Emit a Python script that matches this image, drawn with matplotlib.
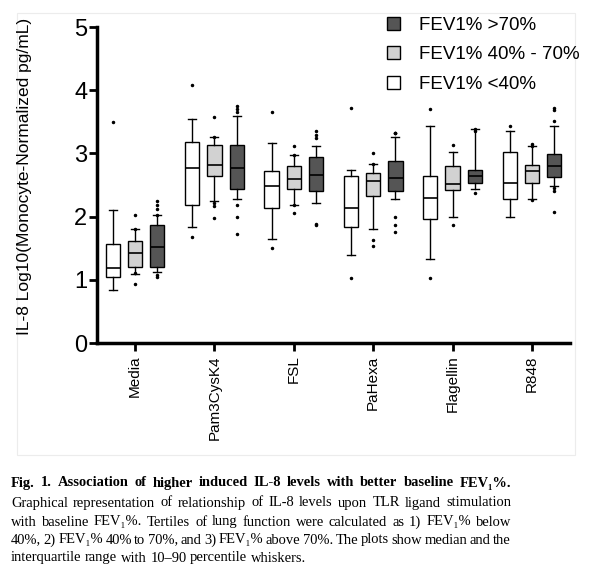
import numpy as np
import matplotlib.pyplot as plt
from matplotlib.patches import Patch, Rectangle

categories = ['Media', 'Pam3CysK4', 'FSL', 'PaHexa', 'Flagellin', 'R848']
tertiles = ['FEV1% <40%', 'FEV1% 40% - 70%', 'FEV1% >70%']
colors = ['white', '#d2d2d2', '#555555']

# per category: [p10, q1, median, q3, p90]
low_stats = [
    [0.84, 1.05, 1.19, 1.56, 2.10],
    [1.84, 2.18, 2.77, 3.18, 3.54],
    [1.64, 2.13, 2.49, 2.72, 3.16],
    [1.39, 1.83, 2.13, 2.64, 2.74],
    [1.33, 1.96, 2.29, 2.64, 3.43],
    [2.00, 2.28, 2.53, 3.02, 3.35],
]
mid_stats = [
    [1.09, 1.21, 1.43, 1.62, 1.80],
    [2.25, 2.65, 2.82, 3.14, 3.26],
    [2.19, 2.43, 2.59, 2.80, 2.98],
    [1.81, 2.32, 2.57, 2.69, 2.84],
    [1.99, 2.42, 2.51, 2.80, 3.02],
    [2.28, 2.53, 2.72, 2.81, 3.11],
]
high_stats = [
    [1.12, 1.21, 1.52, 1.87, 2.03],
    [2.28, 2.43, 2.77, 3.14, 3.59],
    [2.22, 2.41, 2.66, 2.95, 3.11],
    [2.28, 2.41, 2.61, 2.88, 3.26],
    [2.44, 2.53, 2.64, 2.74, 3.38],
    [2.49, 2.63, 2.80, 2.99, 3.44],
]

low_fliers = [[3.49], [4.08, 1.67], [3.66, 1.50], [3.72, 1.03], [3.71, 1.03], [3.44]]
mid_fliers = [[2.03, 1.80, 1.10, 0.94], [3.58, 3.26, 2.22, 2.17, 1.97],
              [3.11, 2.98, 2.19, 2.05], [3.01, 2.84, 1.63, 1.53],
              [3.14, 1.86], [3.15, 3.12, 2.27]]
high_fliers = [[2.25, 2.18, 2.12, 2.03, 1.07, 1.05], [3.75, 3.70, 3.65, 2.19, 2.00, 1.72],
               [3.35, 3.29, 3.24, 1.88, 1.87], [3.33, 3.33, 3.33, 2.00, 1.87, 1.76],
               [3.38, 3.36, 2.37], [3.72, 3.68, 3.51, 2.45, 2.41, 2.08]]

caption = [
    'Fig. 1. Association of higher induced IL-8 levels with better baseline FEV\u2081%.',
    'Graphical representation of relationship of IL-8 levels upon TLR ligand stimulation',
    'with baseline FEV\u2081%. Tertiles of lung function were calculated as 1) FEV\u2081% below',
    '40%, 2) FEV\u2081% 40% to 70%, and 3) FEV\u2081% above 70%. The plots show median and the',
    'interquartile range with 10\u201390 percentile whiskers.',
]

plt.rcParams['font.family'] = ['Liberation Sans', 'DejaVu Sans']

fig = plt.figure(figsize=(5.97, 5.77), dpi=100)
ax = fig.add_axes([97 / 597, 1 - 343 / 577, (570 - 97) / 597, (343 - 27) / 577])

# faint frame around the chart image
fig.patches.append(Rectangle((17 / 597, 1 - 455 / 577), 558 / 597, 442 / 577,
                             transform=fig.transFigure, fill=False,
                             edgecolor='#ececec', lw=0.8))


def make_stats(rows, fliers):
    out = []
    for r, f in zip(rows, fliers):
        out.append(dict(whislo=r[0], q1=r[1], med=r[2], q3=r[3], whishi=r[4],
                        fliers=f))
    return out


x = np.arange(1, len(categories) + 1)
offsets = [-0.28, 0.0, 0.28]
all_stats = [low_stats, mid_stats, high_stats]
all_fliers = [low_fliers, mid_fliers, high_fliers]

for k in range(3):
    ax.bxp(make_stats(all_stats[k], all_fliers[k]), positions=x + offsets[k],
           widths=0.18, patch_artist=True, manage_ticks=False,
           boxprops=dict(facecolor=colors[k], edgecolor='black', lw=1.0),
           medianprops=dict(color='black', lw=1.2),
           whiskerprops=dict(color='black', lw=1.0),
           capprops=dict(color='black', lw=1.0),
           capwidths=0.1,
           flierprops=dict(marker='o', markersize=1.5, markerfacecolor='black',
                           markeredgecolor='black'))

ax.set_xlim(0.52, 6.48)
ax.set_ylim(0, 5)
ax.set_yticks([0, 1, 2, 3, 4, 5])
ax.set_xticks(x)
ax.set_xticklabels(categories, rotation=90, fontsize=11)
ax.tick_params(axis='y', labelsize=17, width=2, length=6, pad=1)
ax.tick_params(axis='x', width=2, length=6, pad=3)
for s in ['top', 'right']:
    ax.spines[s].set_visible(False)
for s in ['left', 'bottom']:
    ax.spines[s].set_linewidth(2.5)

fig.text(25 / 597, 1 - 176 / 577, 'IL-8 Log10(Monocyte-Normalized pg/mL)',
         rotation=90, ha='center', va='center', fontsize=12.5)

handles = [Patch(facecolor=colors[k], edgecolor='black', lw=1.0, label=tertiles[k])
           for k in [2, 1, 0]]
fig.legend(handles=handles, loc='upper left', bbox_to_anchor=(370 / 597, 1 - 0 / 577),
           frameon=False, fontsize=13.5, handlelength=0.7, handleheight=0.7,
           handletextpad=1.0, labelspacing=0.65)

# caption, justified line by line
renderer = fig.canvas.get_renderer()
cap_left, cap_right = 11, 511
last_right = 315
cap_y = [483, 503, 522, 540, 558]
serif = ['Liberation Serif', 'DejaVu Serif']


def word_widths(line, size, weight):
    out = []
    for w in line.split(' '):
        t = fig.text(0, 0, w, family=serif, fontsize=size, weight=weight)
        out.append(t.get_window_extent(renderer).width)
        t.remove()
    return out


# size so the unjustified last line ends where the reference's does
ww = word_widths(caption[-1], 10.0, 'normal')
nat = sum(ww) + 10.0 * 0.35 * (len(ww) - 1)
cap_size = 10.0 * (last_right - cap_left) / nat
# shrink until every justified line keeps at least a small gap
while True:
    ok = True
    for i, line in enumerate(caption[:-1]):
        ww = word_widths(line, cap_size, 'bold' if i == 0 else 'normal')
        if sum(ww) + 2.5 * (len(ww) - 1) > cap_right - cap_left:
            ok = False
    if ok:
        break
    cap_size -= 0.1

for i, line in enumerate(caption):
    words = line.split(' ')
    weight = 'bold' if i == 0 else 'normal'
    texts = [fig.text(0, 1 - cap_y[i] / 577, w, family=serif, fontsize=cap_size,
                      weight=weight, ha='left', va='center') for w in words]
    widths = [t.get_window_extent(renderer).width for t in texts]
    if i < len(caption) - 1:
        gap = (cap_right - cap_left - sum(widths)) / (len(words) - 1)
    else:
        gap = cap_size * 0.35
    xpos = cap_left
    for t, w in zip(texts, widths):
        t.set_x(xpos / 597)
        xpos += w + gap

fig.savefig('out.png', dpi=100)
